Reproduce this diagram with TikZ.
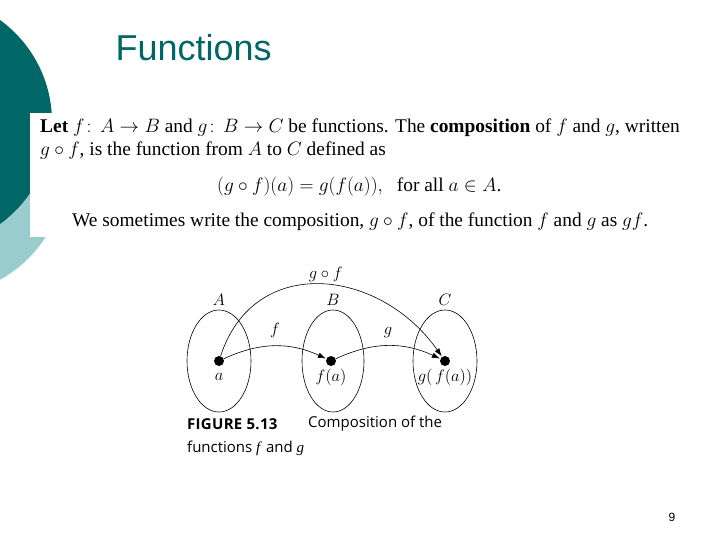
\documentclass[tikz,border=0pt]{standalone}
\usepackage{fix-cm}
\usepackage{fontspec}
\setmainfont{Liberation Serif}
\setsansfont{Liberation Sans}
\newfontfamily\capfont{Open Sans}
\usetikzlibrary{arrows.meta}
\definecolor{tealdark}{RGB}{0,102,102}
\definecolor{teallight}{RGB}{153,204,204}

\begin{document}
\begin{tikzpicture}[x=1pt,y=1pt,
    dot/.style={circle,fill=black,inner sep=0pt,minimum size=10pt},
    setring/.style={draw,line width=0.6pt},
    arr/.style={-{Latex[length=8pt,width=5.5pt]},line width=0.6pt,shorten >=0.5pt},
    bodytext/.style={anchor=west,inner sep=0pt,font=\fontsize{19.4}{22}\selectfont},
    figtext/.style={font=\fontsize{16.5}{19}\selectfont,inner sep=1pt},
    captext/.style={anchor=west,inner sep=0pt,font=\capfont\fontsize{15}{18}\selectfont}]

  % slide background
  \useasboundingbox (0,0) rectangle (720,-540);
  \fill[white] (0,0) rectangle (720,-540);
  \fill[teallight] (-60,-170) circle (125);
  \fill[tealdark] (-74,-122) circle (126);
  \fill[white] (30,-113) rectangle (700,-237);

  \node[anchor=west,text=tealdark,font=\sffamily\fontsize{36}{40}\selectfont] (title) at (112,-48) {Functions};

  % definition
  \node[bodytext] (lineI) at (40,-128) {\textbf{Let} $f\!:\,A\rightarrow B$ and $g\!:\,B\rightarrow C$ be functions. The \textbf{composition} of $f$ and $g$, written};
  \node[bodytext] (lineII) at (40,-151) {$g\circ f$, is the function from $A$ to $C$ defined as};
  \node[bodytext] (lineIII) at (217,-187) {$(g\circ f)(a)=g(f(a)),$\hspace{14pt}for all $a\in A$.};
  \node[bodytext] (lineIV) at (72,-222) {We sometimes write the composition, $g\circ f$, of the function $f$ and $g$ as $gf$.};

  % the three sets
  \coordinate (SA) at (219,-361);
  \coordinate (SB) at (333,-361);
  \coordinate (SC) at (445,-361);
  \draw[setring] (SA) ellipse [x radius=32,y radius=51];
  \draw[setring] (SB) ellipse [x radius=31,y radius=51];
  \draw[setring] (SC) ellipse [x radius=32,y radius=51];
  \node[figtext] (labA) at (219,-300) {$A$};
  \node[figtext] (labB) at (333,-300) {$B$};
  \node[figtext] (labC) at (445,-300) {$C$};

  \node[dot] (a) at (219,-361) {};
  \node[dot] (fa) at (331,-361) {};
  \node[dot] (gfa) at (445,-361) {};
  \node[figtext] (laba) at (219,-377) {$a$};
  \node[figtext] (labfa) at (331,-377) {$f(a)$};
  \node[figtext] (labgfa) at (445,-377) {$g(\,f(a))$};

  \draw[arr] (a) to[bend left=25] node[figtext,above=7pt] (labf) {$f$} (fa);
  \draw[arr] (fa) to[bend left=25] node[figtext,above=7pt] (labg) {$g$} (gfa);
  \draw[arr] (a) to[out=72,in=125,looseness=1.25] node[figtext,pos=0.52,above=2pt] (labgf) {$g\circ f$} (gfa);

  % caption
  \node[captext] (capno) at (187,-424) {\addfontfeature{LetterSpace=2}\textbf{FIGURE 5.13}};
  \node[captext] (capI) at (308,-424) {Composition of the};
  \node[captext] (capII) at (187,-448) {functions \textit{\fontspec{Liberation Serif}f} and \textit{\fontspec{Liberation Serif}g}};

  \node[font=\sffamily\fontsize{12}{14}\selectfont] (pgnum) at (672,-517) {9};
\end{tikzpicture}
\end{document}
